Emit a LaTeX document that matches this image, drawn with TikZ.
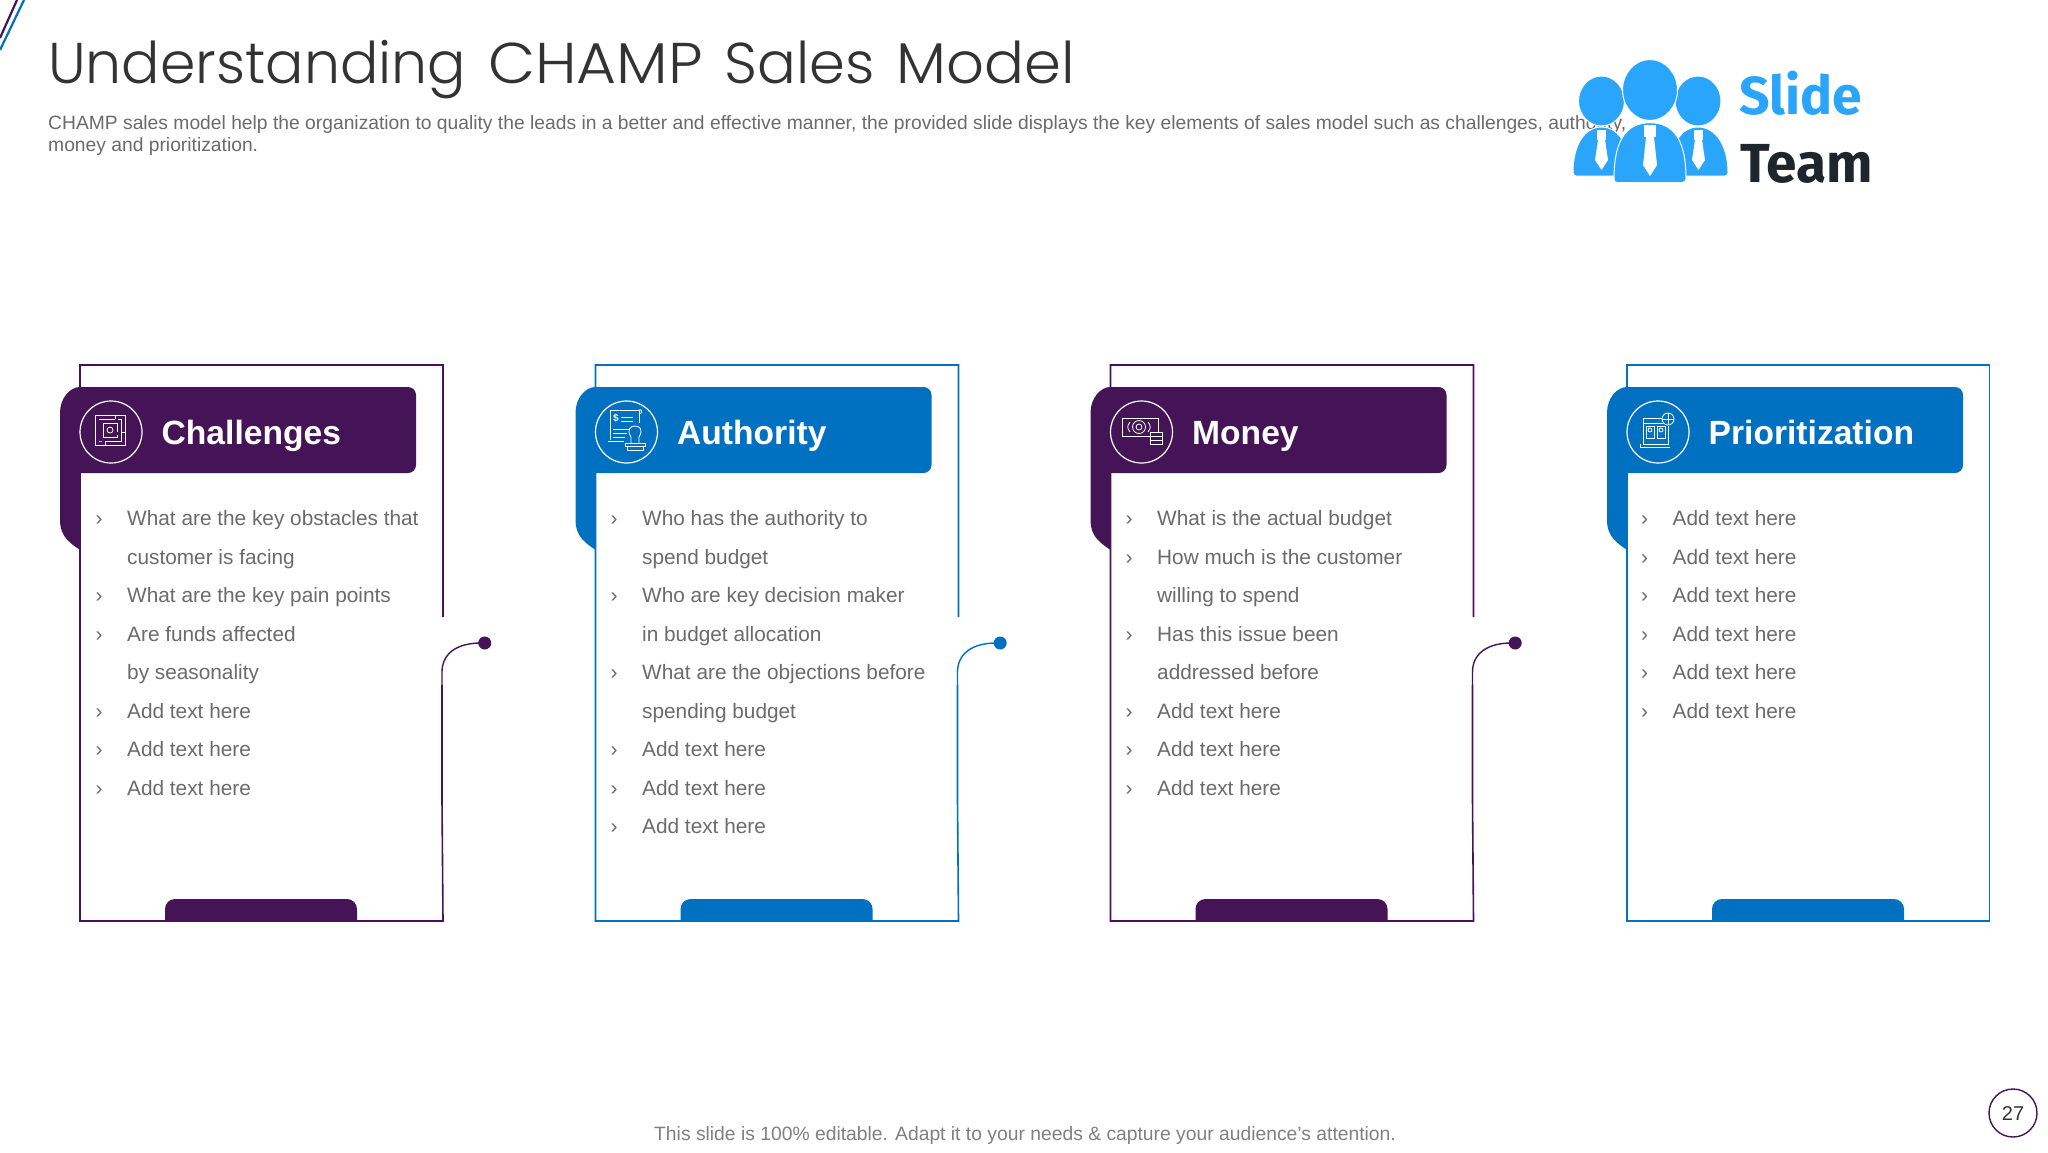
\documentclass[tikz,border=0pt]{standalone}
\usepackage{fontspec}
\usepackage{graphicx}
\setmainfont{Liberation Sans}
\newfontfamily\titlefont[WordSpace=1.4]{Poppins Light}
\newfontfamily\logofont[BoldFont={Fira Sans Bold}]{Fira Sans}
\definecolor{cpurple}{HTML}{451457}
\definecolor{cblue}{HTML}{0070C0}
\definecolor{ctext}{HTML}{6B6B6B}
\definecolor{clogo}{HTML}{2AA5FC}
\definecolor{cdark}{HTML}{1E252C}
\tikzset{
  x=1pt,y=-1pt,
  txt/.style={inner sep=0pt,anchor=base west,text=ctext,font=\fontsize{20.8}{24}\selectfont},
  bul/.style={inner sep=0pt,anchor=base,text=ctext,font=\fontsize{21}{24}\selectfont},
  headtxt/.style={inner sep=0pt,anchor=base west,text=white,font=\fontsize{33.6}{38}\selectfont\bfseries},
  iconc/.style={circle,draw=white,line width=1.2pt,minimum size=62pt,inner sep=0pt},
  ico/.style={draw=white,line width=0.8pt},
  frameline/.style={line width=1.6pt},
}
\newcommand{\cardhead}[4]{%
  \fill[#3] (#2,387) -- (#2+328,387) arc[start angle=-90,end angle=0,radius=8] -- (#2+336,465)
    arc[start angle=0,end angle=90,radius=8] -- (#2,473) -- (#2,550)
    .. controls (#2-8,544) and (#2-20,538) .. (#2-20,520) -- (#2-20,413)
    .. controls (#2-20,398) and (#2-10,387) .. (#2,387) -- cycle;
  \fill[#3] (#2+85,921) -- (#2+85,909) arc[start angle=180,end angle=270,radius=10] -- (#2+267,899)
    arc[start angle=270,end angle=360,radius=10] -- (#2+277,921) -- cycle;
  \node[iconc] (#1-icon) at (#2+31,432) {};
  \node[headtxt] (#1-title) at (#2+81.5,444) {#4};
}
\newcommand{\openframe}[3]{%
  \coordinate (#1-a) at (#2+363,617);
  \coordinate (#1-b) at (#2+362,685);
  \coordinate (#1-d) at (#2+404.7,643);
  \draw[#3,frameline] (#1-a) -- (#2+363,365) -- (#2,365) -- (#2,921) -- (#2+363,921) -- (#2+362,800) -- (#1-b);
  \node[circle,fill=#3,minimum size=13pt,inner sep=0pt] (#1-dot) at (#1-d) {};
  \draw[#3,line width=1.4pt] (#1-b) -- (#2+362,672) .. controls (#2+362,655) and (#2+375,642) .. (#1-dot.center);
}
\newcommand{\itm}[4]{%
  \node[bul] (#1-b#3) at (#2+19,525.7+38.5*#3) {›};
  \node[txt] (#1-t#3) at (#2+47,525.7+38.5*#3) {#4};
}
\newcommand{\cnt}[4]{\node[txt] (#1-t#3) at (#2+47,525.7+38.5*#3) {#4};}
\begin{document}
\begin{tikzpicture}
\useasboundingbox (0,0) rectangle (2048,1152);
\fill[white] (0,0) rectangle (2048,1152);
\coordinate (p1) at (17,0); \coordinate (p2) at (0,38);
\coordinate (b1) at (24,0); \coordinate (b2) at (0,50);
\draw[cpurple,line width=2.2pt] (p1) -- (p2);
\draw[cblue,line width=2.2pt] (b1) -- (b2);
\node[inner sep=0pt,anchor=base west,text=black!80] (title) at (48,83) {\titlefont\fontsize{57.5}{66}\selectfont\scalebox{0.99}[1]{Understanding} \scalebox{1.065}[1]{CHAMP} Sales \scalebox{1.03}[1]{Model}};
\node[inner sep=0pt,anchor=base west,text=ctext] (sub1) at (48,129) {\fontsize{19.27}{23}\selectfont CHAMP sales model help the organization to quality the leads in a better and effective manner, the provided slide displays the key elements of sales model such as challenges, authority,};
\node[inner sep=0pt,anchor=base west,text=ctext] (sub2) at (48,151) {\fontsize{19.27}{23}\selectfont money and prioritization.};
% logo
\fill[clogo,draw=white,line width=1pt] (1573,172) .. controls (1573,146) and (1584,127) .. (1601.5,127) .. controls (1619,127) and (1630,146) .. (1630,172) -- (1630,176) -- (1576,176) arc[start angle=90,end angle=180,radius=3] -- cycle;
\fill[clogo,draw=white,line width=1pt] (1670,176) -- (1670,172) .. controls (1670,146) and (1680,127) .. (1698,127) .. controls (1716,127) and (1728,146) .. (1728,172) -- (1728,173) arc[start angle=0,end angle=90,radius=3] -- cycle;
\fill[clogo,draw=white,line width=1pt] (1601.5,101) ellipse[x radius=23,y radius=25];
\fill[clogo,draw=white,line width=1pt] (1698,101) ellipse[x radius=23,y radius=25];
\fill[clogo,draw=white,line width=1pt] (1650,90) ellipse[x radius=27.5,y radius=30.5];
\fill[clogo,draw=white,line width=1pt] (1614,179) .. controls (1614,142) and (1625,122.7) .. (1650,122.7) .. controls (1675,122.7) and (1686,142) .. (1686,179) arc[start angle=0,end angle=90,radius=3.5] -- (1617.5,182.7) arc[start angle=90,end angle=180,radius=3.5] -- cycle;
\fill[white] (1644,125) rectangle (1656,137);
\fill[white] (1646,137) -- (1654,137) -- (1657,165) -- (1650,176) -- (1643,165) -- cycle;
\fill[white] (1597,130) rectangle (1606,140);
\fill[white] (1598,140) -- (1605,140) -- (1608,160) -- (1601.5,170) -- (1595,160) -- cycle;
\fill[white] (1694,130) rectangle (1703,140);
\fill[white] (1695,140) -- (1702,140) -- (1705,160) -- (1698.5,170) -- (1692,160) -- cycle;
\node[inner sep=0pt,anchor=base west,text=clogo] (slide) at (1739,114) {\logofont\bfseries\fontsize{53.5}{66}\selectfont Slide};
\node[inner sep=0pt,anchor=base west,text=cdark] (team) at (1740,182.7) {\logofont\bfseries\fontsize{55}{66}\selectfont Team};
% cards
\openframe{c1}{80}{cpurple}
\openframe{c2}{595.5}{cblue}
\openframe{c3}{1110.5}{cpurple}
\draw[cblue,frameline] (1627,365) rectangle (1989.5,921);
\cardhead{c1}{80}{cpurple}{Challenges}
\cardhead{c2}{595.5}{cblue}{Authority}
\cardhead{c3}{1110.5}{cpurple}{Money}
\cardhead{c4}{1627}{cblue}{Prioritization}
\begin{scope}[shift={(110,430)}]
\draw[ico] (-15,-15) rectangle (15,15);
\draw[ico] (-11,-11) -- (5,-11) (8,-11) -- (11,-11) -- (11,11) -- (-5,11) (-8,11) -- (-11,11) -- cycle;
\draw[ico] (-7,-7) -- (7,-7) -- (7,2) (7,5) -- (7,7) -- (-7,7) -- (-7,-7);
\draw[ico] (0,0) circle[radius=3];
\draw[ico] (5,-15) -- (5,-11) (-5,11) -- (-5,15) (11,2) -- (15,2);
\end{scope}
\begin{scope}[shift={(627,432)}]
\draw[ico] (12,-9) -- (12,-22) -- (-17,-22) -- (-17,8);
\draw[ico] (12,-22) .. controls (15,-24) and (16,-18) .. (12,-18);
\draw[ico] (-6,-15) -- (6,-15) (-6,-11) -- (6,-11) (-14,-3) -- (2,-3) (-14,1) -- (0,1) (-14,5) -- (-2,5);
\node[inner sep=0pt,text=white,font=\fontsize{10}{10}\selectfont\bfseries] (c2-dollar) at (-11,-14) {\$};
\draw[ico] (4,11) -- (4,5) .. controls (-1,-3) and (4,-6) .. (8,-6) .. controls (12,-6) and (17,-3) .. (12,5) -- (12,11);
\draw[ico] (-2,11) rectangle (18,14);
\draw[ico] (0,14) -- (0,18) -- (16,18) -- (16,14);
\draw[ico] (-19,9) -- (-3,9);
\end{scope}
\begin{scope}[shift={(1141,432)}]
\draw[ico] (9,4) -- (-19,4) -- (-19,-14) -- (17,-14) -- (17,0);
\draw[ico] (-2,-5) circle[radius=6.5];
\draw[ico] (-2,-5) circle[radius=3];
\draw[ico] (-11,-10) .. controls (-14,-6) and (-14,-4) .. (-11,0);
\draw[ico] (7,-10) .. controls (10,-6) and (10,-4) .. (7,0);
\draw[white,fill=cpurple,line width=0.8pt] (9,0) rectangle (21,12);
\draw[ico] (9,4) -- (21,4) (9,8) -- (21,8);
\end{scope}
\begin{scope}[shift={(1657,432)}]
\draw[ico] (5,-14) -- (-14,-14) -- (-14,12) -- (11,12) -- (11,-6);
\draw[ico] (-14,-9) -- (6,-9);
\draw[ico] (-11,-6) rectangle (-3,6);
\draw[ico] (0,-6) rectangle (8,6);
\draw[ico] (-7,-2) circle[radius=2];
\draw[ico] (4,-2) circle[radius=2];
\draw[ico] (11,-13) circle[radius=6];
\draw[ico] (5,-13) -- (17,-13) (11,-19) -- (11,-7);
\draw[ico] (-17,15) -- (13,15) (-17,12) -- (-17,15);
\end{scope}
\itm{c1}{80}{0}{What are the key obstacles that}
\cnt{c1}{80}{1}{customer is facing}
\itm{c1}{80}{2}{What are the key pain points}
\itm{c1}{80}{3}{Are funds affected}
\cnt{c1}{80}{4}{by seasonality}
\itm{c1}{80}{5}{Add text here}
\itm{c1}{80}{6}{Add text here}
\itm{c1}{80}{7}{Add text here}
\itm{c2}{595}{0}{Who has the authority to}
\cnt{c2}{595}{1}{spend budget}
\itm{c2}{595}{2}{Who are key decision maker}
\cnt{c2}{595}{3}{in budget allocation}
\itm{c2}{595}{4}{What are the objections before}
\cnt{c2}{595}{5}{spending budget}
\itm{c2}{595}{6}{Add text here}
\itm{c2}{595}{7}{Add text here}
\itm{c2}{595}{8}{Add text here}
\itm{c3}{1110}{0}{What is the actual budget}
\itm{c3}{1110}{1}{How much is the customer}
\cnt{c3}{1110}{2}{willing to spend}
\itm{c3}{1110}{3}{Has this issue been}
\cnt{c3}{1110}{4}{addressed before}
\itm{c3}{1110}{5}{Add text here}
\itm{c3}{1110}{6}{Add text here}
\itm{c3}{1110}{7}{Add text here}
\itm{c4}{1625.5}{0}{Add text here}
\itm{c4}{1625.5}{1}{Add text here}
\itm{c4}{1625.5}{2}{Add text here}
\itm{c4}{1625.5}{3}{Add text here}
\itm{c4}{1625.5}{4}{Add text here}
\itm{c4}{1625.5}{5}{Add text here}
\node[inner sep=0pt,anchor=base west,text=black!50] (foot) at (654,1140) {\fontsize{19.3}{23}\selectfont This slide is 100\% editable. Adapt it to your needs \& capture your audience's attention.};
\node[circle,draw=cpurple,line width=1.4pt,minimum size=48pt,inner sep=0pt,text=black!80,font=\fontsize{20}{24}\selectfont] (page) at (2013,1113) {27};
\end{tikzpicture}
\end{document}
